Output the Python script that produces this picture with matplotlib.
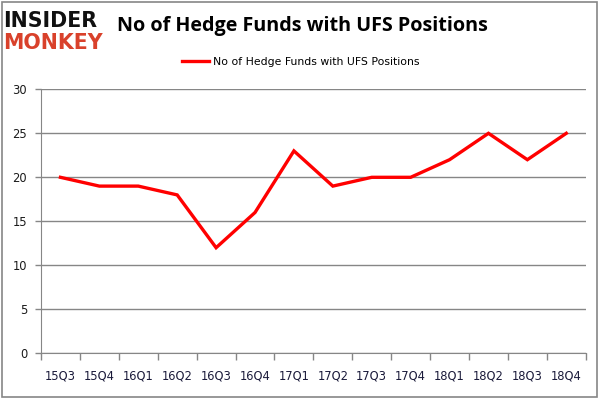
import numpy as np
import matplotlib.pyplot as plt
from matplotlib.patches import Rectangle

quarters = ["15Q3", "15Q4", "16Q1", "16Q2", "16Q3", "16Q4", "17Q1",
            "17Q2", "17Q3", "17Q4", "18Q1", "18Q2", "18Q3", "18Q4"]
funds = [20, 19, 19, 18, 12, 16, 23, 19, 20, 20, 22, 25, 22, 25]
yticks = [0, 5, 10, 15, 20, 25, 30]

grey = "#868686"

fig = plt.figure(figsize=(6.02, 3.98), dpi=100)
ax = fig.add_axes([0.0681, 0.1123, 0.9049, 0.6633])

x = np.arange(len(quarters))
ax.plot(x, funds, color="#ff0000", linewidth=2.4, label="No of Hedge Funds with UFS Positions",
        solid_joinstyle="miter")

ax.set_ylim(0, 30)
ax.set_xlim(-0.5, len(quarters) - 0.5)
ax.set_yticks(yticks)
ax.set_yticklabels([str(v) for v in yticks])
ax.yaxis.grid(True, color=grey, linewidth=1)
ax.set_axisbelow(True)

# ticks at category boundaries, labels at centres
ax.set_xticks(np.arange(len(quarters) + 1) - 0.5)
ax.set_xticklabels([])
ax.set_xticks(x, minor=True)
ax.set_xticklabels(quarters, minor=True)
ax.tick_params(axis="x", which="major", length=5, color=grey, width=1)
ax.tick_params(axis="x", which="minor", length=0, pad=12, labelsize=8.3, labelcolor="#1a1a3a")
ax.tick_params(axis="y", length=4, color=grey, width=1, labelsize=8.3, labelcolor="#1a1a1a", pad=6)

for side in ["top", "right"]:
    ax.spines[side].set_visible(False)
ax.spines["left"].set_color(grey)
ax.spines["bottom"].set_color(grey)

leg = fig.legend(loc="center", bbox_to_anchor=(0.5, 0.845), frameon=False,
                 fontsize=7.8, handlelength=2.5, handletextpad=0.4)

fig.text(0.502, 0.935, "No of Hedge Funds with UFS Positions", ha="center", va="center",
         fontsize=14.2, fontweight="bold", family="Open Sans")

# logo
fig.text(0.006, 0.948, "INSIDER", ha="left", va="center", fontsize=14.8,
         fontweight="heavy", color="#111111", family="DejaVu Sans")
fig.text(0.006, 0.893, "MONKEY", ha="left", va="center", fontsize=14.8,
         fontweight="heavy", color="#d9412b", family="DejaVu Sans")

# outer border
fig.patches.append(Rectangle((0.003, 0.003), 0.989, 0.993, transform=fig.transFigure,
                             fill=False, edgecolor=grey, linewidth=1.2))

fig.savefig("out.png", dpi=100)
